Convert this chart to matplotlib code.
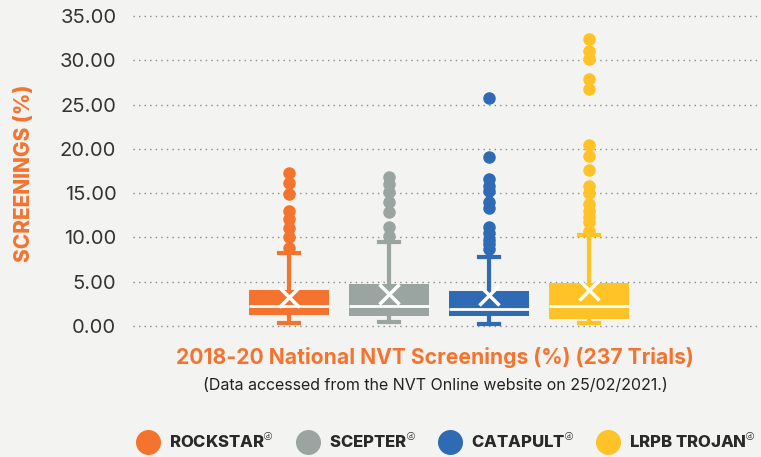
import matplotlib
matplotlib.use("Agg")
import matplotlib.pyplot as plt
from matplotlib.lines import Line2D

# varieties and colours
varieties = ["ROCKSTAR", "SCEPTER", "CATAPULT", "LRPB TROJAN"]
colors = ["#F4742F", "#9AA5A1", "#2E6BB4", "#FFC328"]

# box stats (screenings %)
q1 = [1.28, 1.17, 1.17, 0.75]
medians = [2.26, 2.26, 1.96, 2.30]
q3 = [4.06, 4.74, 3.95, 4.82]
whislo = [0.37, 0.42, 0.26, 0.30]
whishi = [8.20, 9.45, 7.75, 10.27]
means = [3.30, 3.60, 3.50, 4.06]
outliers = [
    [17.24, 16.10, 14.87, 12.98, 12.04, 11.03, 10.00, 8.84],
    [16.86, 16.00, 15.16, 13.96, 12.90, 11.14, 10.16],
    [25.78, 19.12, 16.56, 15.84, 15.24, 14.00, 13.36, 11.14, 10.53, 9.71, 9.26, 8.66],
    [32.40, 31.05, 30.11, 27.85, 26.72, 20.44, 19.19, 17.61, 15.84, 15.05,
     13.74, 12.98, 12.34, 11.70, 10.76],
]
yticks = [0, 5, 10, 15, 20, 25, 30, 35]

bg = "#F3F3F1"
plt.rcParams["font.family"] = ["Inter", "DejaVu Sans"]

fig = plt.figure(figsize=(7.61, 4.57), dpi=100, facecolor=bg)
ax = fig.add_axes([133 / 761, 0.267, 1 - 133 / 761, 0.7175], facecolor=bg)

for i in range(len(varieties)):
    c = colors[i]
    st = [dict(med=medians[i], q1=q1[i], q3=q3[i], whislo=whislo[i],
               whishi=whishi[i], mean=means[i], fliers=outliers[i])]
    ax.bxp(st, positions=[i + 1], widths=0.8, capwidths=0.2,
           showmeans=True, patch_artist=True,
           boxprops=dict(facecolor=c, edgecolor=c, linewidth=0),
           medianprops=dict(color="white", linewidth=2),
           whiskerprops=dict(color=c, linewidth=3),
           capprops=dict(color=c, linewidth=3),
           meanprops=dict(marker="x", markeredgecolor="white", markersize=14,
                          markeredgewidth=2.5),
           flierprops=dict(marker="o", markerfacecolor=c, markeredgecolor=c,
                           markersize=8))

ax.set_xlim(-0.56, 5.72)
ax.set_ylim(-1, 36)
ax.set_yticks(yticks)
ax.set_yticklabels([f"{v:.2f}" for v in yticks], fontsize=14.5, color="#333333")
ax.set_xticks([])
ax.tick_params(axis="y", length=0, pad=12)
ax.grid(axis="y", linestyle=(0, (1, 3)), color="#8a8a8a", linewidth=1)
ax.set_axisbelow(True)
for s in ax.spines.values():
    s.set_visible(False)

fig.text(24 / 761, 1 - 173 / 457, "SCREENINGS (%)", rotation=90, ha="center",
         va="center", color="#F4742F", fontsize=15, fontweight="heavy")

fig.text(0.572, 1 - 358 / 457, "2018-20 National NVT Screenings (%) (237 Trials)",
         ha="center", va="center", color="#F4742F", fontsize=15.2, fontweight="bold")
fig.text(0.572, 1 - 386 / 457,
         "(Data accessed from the NVT Online website on 25/02/2021.)",
         ha="center", va="center", color="#222222", fontsize=11.5)

handles = [Line2D([], [], marker="o", linestyle="", markersize=17,
                  markerfacecolor=c, markeredgecolor=c) for c in colors]
labels = [v + "$^{\u24d3}$" for v in varieties]
leg = fig.legend(handles, labels, loc="center", bbox_to_anchor=(0.583, 1 - 441 / 457),
                 ncol=4, frameon=False, handletextpad=0.3, columnspacing=1.0,
                 prop=dict(weight="heavy", size=12))
for t in leg.get_texts():
    t.set_color("#2a2a2a")

fig.savefig("out.png", dpi=100, facecolor=bg)
